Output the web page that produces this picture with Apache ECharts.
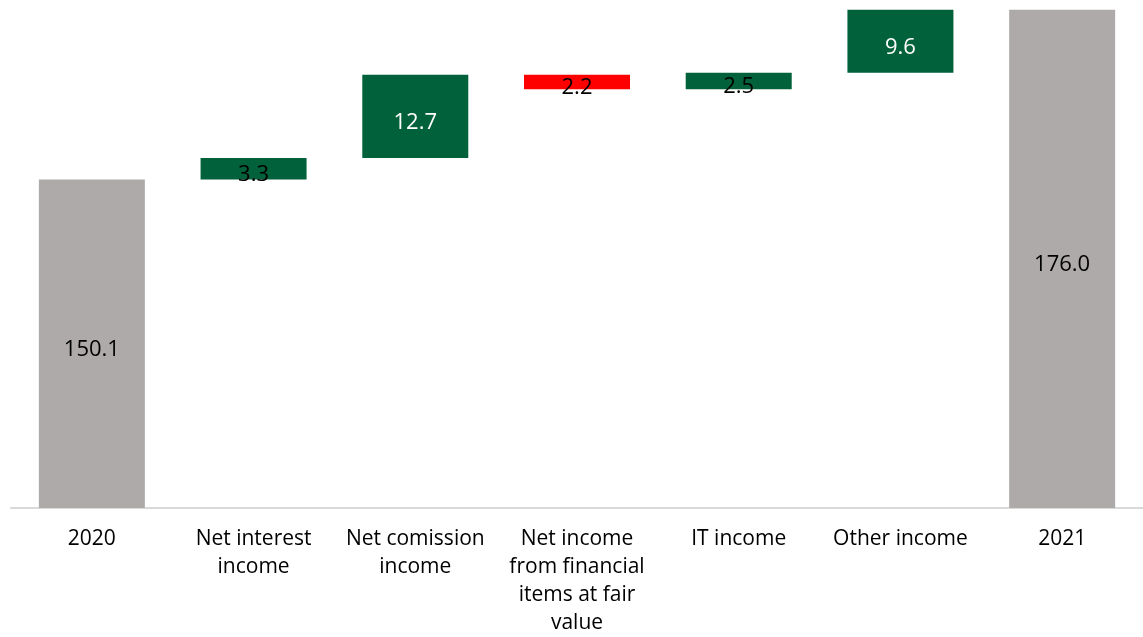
<!DOCTYPE html>
<html>
<head>
<meta charset="utf-8">
<script src="https://cdn.jsdelivr.net/npm/echarts@6/dist/echarts.min.js"></script>
<style>
  html, body { margin: 0; padding: 0; background: #ffffff; }
  #chart { width: 1143px; height: 637px; }
</style>
</head>
<body>
<div id="chart"></div>
<script>
// Income bridge 2020 -> 2021
const categories = ['2020', 'Net interest\nincome', 'Net comission\nincome',
  'Net income\nfrom financial\nitems at fair\nvalue', 'IT income', 'Other income', '2021'];
// Totals are absolute levels; the steps in between are changes
const values = [150.1, 3.3, 12.7, -2.2, 2.5, 9.6, 176.0];
const isTotal = [true, false, false, false, false, false, true];

const GREY = '#AEAAAA';
const GREEN = '#00613A';
const RED = '#FF0000';

// Build invisible base + visible segment for each category
const baseData = [];
const segData = [];
let running = 0;
values.forEach((v, i) => {
  if (isTotal[i]) {
    baseData.push(0);
    segData.push(v);
    running = v;
  } else {
    const lo = v >= 0 ? running : running + v;
    baseData.push(+lo.toFixed(1));
    segData.push(Math.abs(v));
    running = +(running + v).toFixed(1);
  }
});

function segColor(i) {
  if (isTotal[i]) return GREY;
  return values[i] >= 0 ? GREEN : RED;
}
// Tall steps carry a white label; short ones and totals use black
function labelColor(i) {
  if (isTotal[i]) return '#000000';
  return Math.abs(values[i]) > 5 ? '#ffffff' : '#000000';
}
function labelOffset(i) {
  if (isTotal[i] || Math.abs(values[i]) > 5) return [0, 6];
  return [0, 6];
}

const chart = echarts.init(document.getElementById('chart'), null, { renderer: 'canvas' });
chart.setOption({
  animation: false,
  backgroundColor: '#ffffff',
  grid: { left: 11, right: -10, top: 0, bottom: 125, containLabel: false },
  xAxis: {
    type: 'category',
    data: categories,
    axisLine: { show: true, lineStyle: { color: '#D9D9D9', width: 2 } },
    axisTick: { show: false },
    axisLabel: {
      interval: 0,
      margin: 17,
      color: '#000000',
      fontFamily: 'Open Sans',
      fontSize: 21,
      lineHeight: 28,
      align: 'center'
    }
  },
  yAxis: {
    type: 'value',
    min: 100,
    max: 177.5,
    show: false,
    splitLine: { show: false }
  },
  series: [
    {
      type: 'bar',
      stack: 'bridge',
      barWidth: 106,
      silent: true,
      itemStyle: { color: 'transparent' },
      data: baseData
    },
    {
      type: 'bar',
      stack: 'bridge',
      barWidth: 106,
      data: segData.map((v, i) => ({
        value: v,
        itemStyle: { color: segColor(i) },
        label: {
          show: true,
          position: 'inside',
          offset: labelOffset(i),
          color: labelColor(i),
          fontFamily: 'Open Sans',
          fontSize: 22,
          formatter: () => Math.abs(values[i]).toFixed(1)
        }
      }))
    }
  ]
});
</script>
</body>
</html>
